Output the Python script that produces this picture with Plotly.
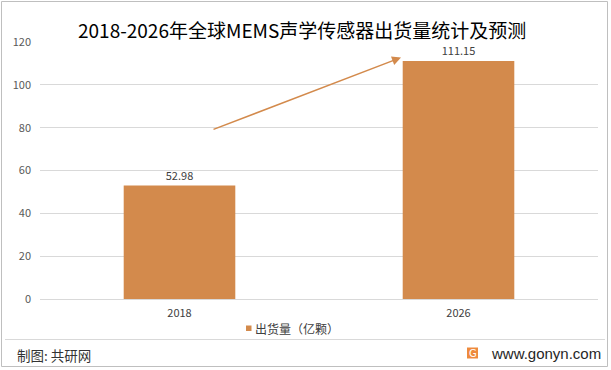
import plotly.graph_objects as go

categories = ["2018", "2026"]
values = [52.98, 111.15]
value_labels = ["52.98", "111.15"]
series_name = "出货量（亿颗）"
title_text = "2018-2026年全球MEMS声学传感器出货量统计及预测"
tick_vals = [0, 20, 40, 60, 80, 100, 120]

BAR = "#D38A4C"
CJK = "Noto Sans CJK SC, Microsoft YaHei, sans-serif"

fig = go.Figure()
fig.add_trace(go.Bar(
    x=categories, y=values, name=series_name,
    marker=dict(color=BAR, line=dict(width=0)),
    text=value_labels, textposition="outside",
    textfont=dict(size=11, color="#404040", family=CJK),
    cliponaxis=False, showlegend=False,
))

# paper coordinate helpers (plot area: x 40..598 px, y 42..299 px)
def px(xp):
    return (xp - 40) / 558.0

def py(yp):
    return (299 - yp) / 257.0

shapes = [
    dict(type="rect", xref="paper", yref="paper",
         x0=px(1.5), x1=px(607.5), y0=py(366.5), y1=py(1.5),
         line=dict(color="#BFBFBF", width=1), fillcolor="rgba(0,0,0,0)", layer="below"),
    dict(type="line", xref="paper", yref="paper",
         x0=px(5), x1=px(605), y0=py(339.5), y1=py(339.5),
         line=dict(color="#D9D9D9", width=1)),
    # logo square
    dict(type="rect", xref="paper", yref="paper",
         x0=px(467), x1=px(478), y0=py(358.5), y1=py(347.5),
         line=dict(width=0), fillcolor="#EE8A3C"),
    # legend swatch
    dict(type="rect", xref="paper", yref="paper",
         x0=px(246), x1=px(251.5), y0=py(331), y1=py(325.5),
         line=dict(width=0), fillcolor=BAR),
]

annotations = [
    dict(text=title_text, xref="paper", yref="paper", x=px(301.5), y=py(29.5),
         xanchor="center", yanchor="middle", showarrow=False,
         font=dict(size=19, color="#000000", family=CJK)),
    dict(text="", xref="paper", yref="paper", axref="pixel", ayref="pixel",
         x=px(401), y=py(57.5), ax=212 - 401, ay=130 - 57.5,
         showarrow=True, arrowhead=2, arrowsize=1.2, arrowwidth=1.5, arrowcolor=BAR),
    dict(text=series_name, xref="paper", yref="paper", x=px(253), y=py(328),
         xanchor="left", yanchor="middle", showarrow=False,
         font=dict(size=12, color="#404040", family=CJK)),
    dict(text="制图: 共研网", xref="paper", yref="paper", x=px(15), y=py(355),
         xanchor="left", yanchor="middle", showarrow=False,
         font=dict(size=13.5, color="#333333", family=CJK)),
    dict(text="G", xref="paper", yref="paper", x=px(472.5), y=py(353),
         xanchor="center", yanchor="middle", showarrow=False,
         font=dict(size=10, color="#FFFFFF", family="DejaVu Sans")),
    dict(text="www.gonyn.com", xref="paper", yref="paper", x=px(489), y=py(353),
         xanchor="left", yanchor="middle", showarrow=False,
         font=dict(size=15, color="#262626", family="Liberation Sans, Arial")),
]

fig.update_layout(
    width=611, height=370,
    margin=dict(l=40, r=13, t=42, b=71),
    paper_bgcolor="#FFFFFF", plot_bgcolor="#FFFFFF",
    bargap=0.6,
    showlegend=False,
    xaxis=dict(type="category", showgrid=False, showline=False, ticks="",
               ticklabelstandoff=6,
               tickfont=dict(size=11, color="#404040", family=CJK)),
    yaxis=dict(range=[0, 120], tickvals=tick_vals, showgrid=True, gridcolor="#D9D9D9",
               gridwidth=1, zeroline=True, zerolinecolor="#D9D9D9", zerolinewidth=1,
               showline=False, ticks="", ticklen=0, ticklabelstandoff=8,
               tickfont=dict(size=11, color="#595959", family=CJK)),
    shapes=shapes,
    annotations=annotations,
)

fig.write_html("out.html", config={"displayModeBar": False},
               post_script="document.body.style.margin='0';")
